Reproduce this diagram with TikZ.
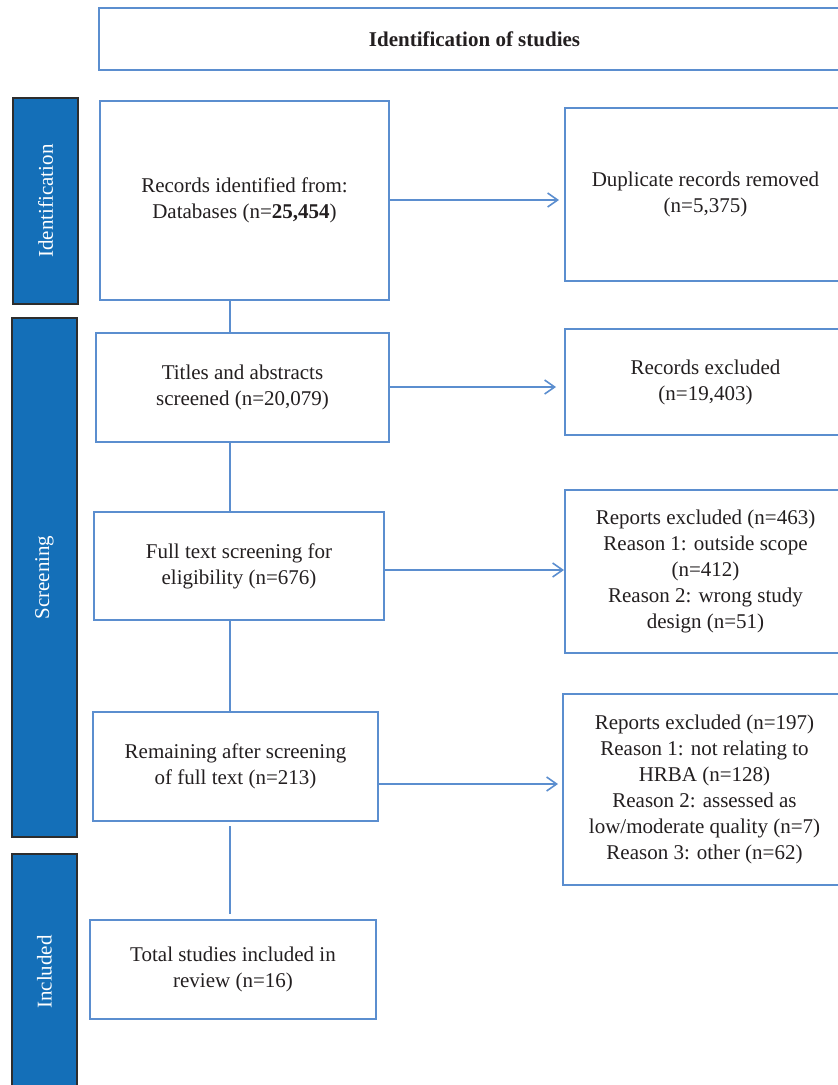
\documentclass[tikz,border=0pt]{standalone}
\usepackage{fontspec}
\setmainfont{Liberation Serif}
\usetikzlibrary{arrows.meta}
\definecolor{boxblue}{RGB}{91,142,207}
\definecolor{barblue}{RGB}{20,111,184}
\definecolor{bardark}{RGB}{45,45,45}
\definecolor{txtdark}{RGB}{35,31,32}
\begin{document}
\begin{tikzpicture}[x=1pt, y=-1pt, line width=2pt,
	box/.style={draw=boxblue, fill=white, align=center, inner sep=0pt, text=txtdark, font=\fontsize{21}{26}\selectfont},
	bar/.style={draw=bardark, fill=barblue, text=white, inner sep=0pt, font=\fontsize{21}{26}\selectfont},
	arr/.style={draw=boxblue, -{Straight Barb[length=10pt,width=14pt,line width=1.6pt]}},
	con/.style={draw=boxblue}]
	\useasboundingbox (0,0) rectangle (838,1085);
	\clip (0,0) rectangle (838,1085);
	%%Kopfzeile
		\node[box, minimum width=751pt, minimum height=62pt] (title) at (474.5,39) {\bfseries Identification of studies};
	%%Seitenbalken
		\node[bar, minimum width=65pt, minimum height=206pt] (idbar) at (45.5,201) {\rotatebox{90}{Identification}};
		\node[bar, minimum width=65pt, minimum height=519pt] (scrbar) at (44.5,577.5) {\rotatebox{90}{Screening}};
		\node[bar, minimum width=65pt, minimum height=236pt] (incbar) at (44.5,972) {\rotatebox{90}{Included}};
	%%Linke Spalte
		\node[box, minimum width=289pt, minimum height=199pt] (records) at (244.5,200.5) {Records identified from:\\Databases (n=\textbf{25,454})};
		\node[box, minimum width=293pt, minimum height=109pt] (titles) at (242.5,387.5) {Titles and abstracts\\screened (n=20,079)};
		\node[box, minimum width=290pt, minimum height=108pt] (fulltext) at (239,566) {Full text screening for\\eligibility (n=676)};
		\node[box, minimum width=285pt, minimum height=109pt] (remaining) at (235.5,766.5) {Remaining after screening\\of full text (n=213)};
		\node[box, minimum width=286pt, minimum height=99pt] (total) at (233,969.5) {Total studies included in\\review (n=16)};
	%%Rechte Spalte
		\node[box, minimum width=281pt, minimum height=173pt] (dup) at (705.5,194.5) {Duplicate records removed\\(n=5,375)};
		\node[box, minimum width=281pt, minimum height=106pt] (recexcl) at (705.5,382) {Records excluded\\(n=19,403)};
		\node[box, minimum width=281pt, minimum height=163pt] (rep1) at (705.5,571.5) {Reports excluded (n=463)\\Reason 1: outside scope\\(n=412)\\Reason 2: wrong study\\design (n=51)};
		\node[box, minimum width=283pt, minimum height=191pt] (rep2) at (704.5,789.5) {Reports excluded (n=197)\\Reason 1: not relating to\\HRBA (n=128)\\Reason 2: assessed as\\low/moderate quality (n=7)\\Reason 3: other (n=62)};
	%%Verbindungen
		\coordinate (spine) at (230,0);
		\draw[con] (records.south -| spine) -- (titles.north -| spine);
		\draw[con] (titles.south -| spine) -- (fulltext.north -| spine);
		\draw[con] (fulltext.south -| spine) -- (remaining.north -| spine);
		\draw[con, shorten <=4pt, shorten >=5pt] (remaining.south -| spine) -- (total.north -| spine);
	%%Pfeile
		\draw[arr, shorten >=5pt] ([yshift=0.5pt]records.east) -- ([yshift=0.5pt]records.east -| dup.west);
		\draw[arr, shorten >=8pt] ([yshift=0.5pt]titles.east) -- ([yshift=0.5pt]titles.east -| recexcl.west);
		\draw[arr] ([yshift=-4pt]fulltext.east) -- ([yshift=-4pt]fulltext.east -| rep1.west);
		\draw[arr, shorten >=4pt] ([yshift=-17.5pt]remaining.east) -- ([yshift=-17.5pt]remaining.east -| rep2.west);
\end{tikzpicture}
\end{document}
